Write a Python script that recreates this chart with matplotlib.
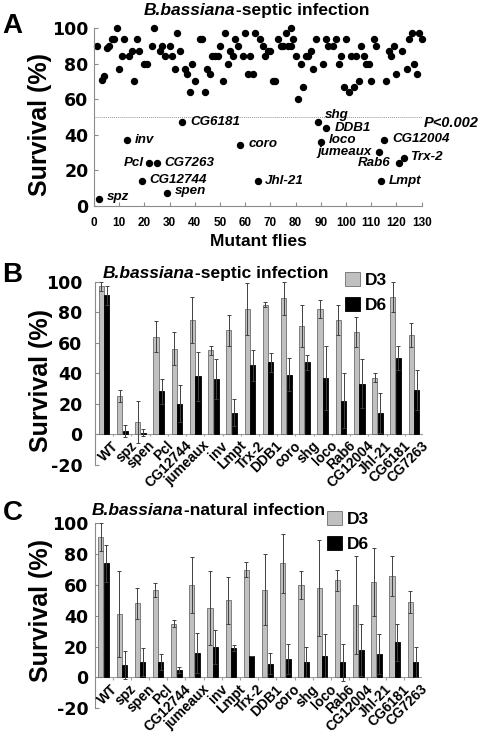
import matplotlib
matplotlib.use("Agg")
import matplotlib.pyplot as plt
import numpy as np

W, H = 478, 735
plt.rcParams['font.family'] = ['Liberation Sans', 'DejaVu Sans']
plt.rcParams['font.weight'] = 'bold'
plt.rcParams['axes.unicode_minus'] = False

# ---------------- Panel A data ----------------
scatter_x = [1, 3, 4, 5, 6, 7, 8, 9, 10, 11, 12, 14, 15, 16, 17, 18, 20, 21, 23, 24,
             26, 27, 28, 30, 31, 32, 33, 34, 36, 37, 38, 39, 40, 42, 43, 44, 45, 46, 47, 48,
             49, 50, 51, 52, 53, 54, 55, 56, 57, 59, 60, 61, 62, 63, 64, 66, 67, 68, 69, 70,
             71, 72, 73, 74, 75, 76, 77, 78, 78, 79, 80, 81, 82, 83, 84, 85, 86, 87, 88, 91,
             92, 93, 95, 96, 97, 98, 99, 100, 101, 102, 103, 104, 105, 106, 107, 108, 109, 110,
             111, 112, 116, 117, 118, 119, 120, 122, 124, 125, 126, 127, 128, 129, 130]
scatter_y = [90, 71, 73, 89, 90, 94, 94, 100, 77, 84, 94, 84, 87, 70, 94, 87, 80, 80, 90, 100,
             87, 90, 84, 90, 84, 77, 97, 87, 77, 74, 64, 80, 70, 94, 94, 64, 77, 74, 84, 84,
             84, 90, 70, 97, 80, 87, 84, 94, 90, 84, 97, 74, 84, 74, 97, 94, 90, 84, 87, 87,
             70, 70, 94, 90, 90, 97, 90, 90, 100, 94, 84, 60, 80, 67, 84, 84, 87, 77, 94, 80,
             94, 90, 90, 94, 80, 84, 67, 94, 64, 84, 67, 84, 70, 90, 84, 80, 80, 70,
             94, 90, 70, 87, 84, 90, 74, 87, 77, 94, 97, 80, 74, 97, 94]

mutant_names = ['spz', 'inv', 'Pcl', 'CG7263', 'CG12744', 'spen', 'CG6181', 'coro', 'Jhl-21',
                'shg', 'DDB1', 'loco', 'jumeaux', 'CG12004', 'Trx-2', 'Rab6', 'Lmpt']
mutant_x = [2, 13, 22, 25, 19, 29, 35, 58, 65, 89, 92, 90, 113, 115, 123, 121, 114]
mutant_y = [4, 37, 24, 24, 14, 7, 47, 34, 14, 47, 44, 36, 30, 37, 27, 24, 14]
threshold = 50

# ---------------- Panel B / C data ----------------
genes = ['WT', 'spz', 'spen', 'Pcl', 'CG12744', 'jumeaux', 'inv', 'Lmpt', 'Trx-2', 'DDB1',
         'coro', 'shg', 'loco', 'Rab6', 'CG12004', 'Jhl-21', 'CG6181', 'CG7263']
septic_d3 = [97, 25, 8, 64, 56, 75, 55, 68, 82, 85, 89, 71, 82, 75, 67, 37, 90, 65]
septic_d3_err = [3, 4, 14, 10, 11, 15, 3, 10, 17, 1.5, 11, 14, 6, 10, 10, 3, 10, 8]
septic_d6 = [91, 2, 1, 28, 20, 38, 36, 14, 45, 47, 39, 47, 37, 22, 33, 14, 50, 29]
septic_d6_err = [6, 4, 2, 8, 12, 16, 13, 9, 10, 6, 11, 5, 21, 18, 16, 13, 8, 13]

natural_d3 = [91, 41, 48, 57, 35, 60, 45, 50, 70, 57, 74, 60, 58, 63, 47, 62, 66, 49]
natural_d3_err = [9, 28, 10, 4.5, 2, 18, 24, 15, 5, 23, 19, 9, 31, 7, 32, 22, 13, 7]
natural_d6 = [74, 8, 10, 10, 5, 16, 20, 19, 14, 9, 12, 10, 14, 10, 18, 15, 23, 10]
natural_d6_err = [12, 9, 9, 5, 2, 13, 11, 2, 0, 7, 10, 10, 14, 12, 17, 13, 12, 10]

fig = plt.figure(figsize=(W / 100, H / 100), dpi=100)

def fx(px):
    return px / W

def fy(py):
    return 1 - py / H

GRAY = '#8c8c8c'

# ================= Panel A =================
axA = fig.add_axes([fx(94), fy(205.7), (421.7 - 94) / W, (205.7 - 28) / H])
axA.plot(scatter_x, scatter_y, 'o', color='black', ms=4.3, clip_on=False)
axA.plot(mutant_x, mutant_y, 'o', color='black', ms=4.3, clip_on=False)
axA.plot([0, 130], [threshold, threshold], linestyle=(0, (1, 1)), color='#999999', lw=0.7)
axA.set_xlim(0, 130)
axA.set_ylim(0, 100)
axA.set_xticks(np.arange(0, 131, 10))
axA.set_yticks(np.arange(0, 101, 20))
for s in ['top', 'right']:
    axA.spines[s].set_visible(False)
for s in ['left', 'bottom']:
    axA.spines[s].set_color(GRAY)
    axA.spines[s].set_linewidth(0.8)
axA.tick_params(axis='both', direction='in', length=3, color=GRAY, width=0.8)
axA.tick_params(axis='x', pad=8, labelsize=8.5)
axA.tick_params(axis='y', pad=4, labelsize=12.5)
for lab in axA.get_yticklabels():
    lab.set_family('DejaVu Sans')
    lab.set_weight('bold')
for lab in axA.get_xticklabels():
    lab.set_weight('bold')

# label offsets: (dx, dy, ha)
label_pos = {
    'spz': (3.2, 1, 'left'), 'inv': (3.3, 0, 'left'), 'Pcl': (-2.2, 0.3, 'right'),
    'CG7263': (2.8, 0.2, 'left'), 'CG12744': (2.8, 0.6, 'left'), 'spen': (3.1, 1.4, 'left'),
    'CG6181': (3.4, 0.2, 'left'), 'coro': (3.2, 0.7, 'left'), 'Jhl-21': (2.6, 0, 'left'),
    'shg': (2.7, 4.2, 'left'), 'DDB1': (3.6, -0.5, 'left'), 'loco': (3.3, 1.0, 'left'),
    'jumeaux': (-2.8, 0.2, 'right'), 'CG12004': (3.4, 0.3, 'left'), 'Trx-2': (2.4, 0.6, 'left'),
    'Rab6': (-3.3, -0.2, 'right'), 'Lmpt': (2.8, 0, 'left'),
}
for name, x, y in zip(mutant_names, mutant_x, mutant_y):
    dx, dy, ha = label_pos[name]
    axA.text(x + dx, y + dy, name, style='italic', weight='bold', fontsize=9.6,
             ha=ha, va='center', clip_on=False)
axA.text(131, 46.5, 'P<0.002', style='italic', weight='bold', fontsize=10.5,
         ha='left', va='center', clip_on=False)

fig.text(fx(40), fy(125), 'Survival (%)', rotation=90, ha='center', va='center',
         fontsize=18, weight='bold')
fig.text(fx(258), fy(241), 'Mutant flies', ha='center', va='center', fontsize=12.5, weight='bold')

renderer = fig.canvas.get_renderer()

def mixed_title(px, py, rest):
    t1 = fig.text(fx(px), fy(py), 'B.bassiana', style='italic', weight='bold',
                  fontsize=12.5, ha='left', va='baseline')
    bb = t1.get_window_extent(renderer=renderer)
    fig.text(bb.x1 / W + 0.001, fy(py), rest,
             weight='bold', fontsize=12.5, ha='left', va='baseline')

mixed_title(144, 15, '-septic infection')
fig.text(fx(2), fy(13), 'A', fontsize=20, weight='bold', ha='left', va='top')

# ================= Panels B and C =================
def bar_panel(rect, d3, d3e, d6, d6e, ypad, legend_xy):
    ax = fig.add_axes(rect)
    x = np.arange(len(genes))
    w = 0.28
    off = 0.15
    b1 = ax.bar(x - off, d3, w, color='#c0c0c0', edgecolor='#6e6e6e', linewidth=0.6,
                label='D3', zorder=2)
    b2 = ax.bar(x + off, d6, w, color='black', edgecolor='black', linewidth=0.6,
                label='D6', zorder=2)
    ax.errorbar(x - off, d3, yerr=d3e, fmt='none', ecolor='#404040', elinewidth=0.7,
                capsize=1.6, capthick=0.7, zorder=3)
    ax.errorbar(x + off, d6, yerr=d6e, fmt='none', ecolor='#404040', elinewidth=0.7,
                capsize=1.6, capthick=0.7, zorder=3)
    ax.set_xlim(-0.5, len(genes) - 0.5)
    ax.set_ylim(-20, 100)
    ax.set_yticks(np.arange(-20, 101, 20))
    ax.set_xticks([])
    for s in ['top', 'right', 'bottom']:
        ax.spines[s].set_visible(False)
    ax.spines['left'].set_color(GRAY)
    ax.spines['left'].set_linewidth(0.8)
    ax.tick_params(axis='y', direction='in', length=3, color=GRAY, width=0.8,
                   pad=ypad, labelsize=12.5)
    for lab in ax.get_yticklabels():
        lab.set_family('DejaVu Sans')
        lab.set_weight('bold')
    ax.axhline(0, color='#a0a0a0', lw=0.8, zorder=1)
    ax.vlines(np.arange(len(genes)) + 0.5, -1.5, 0, color='#a0a0a0', lw=0.8, zorder=1)
    for i, g in enumerate(genes):
        ax.text(i + 0.4, -3.0, g, rotation=45, ha='right', va='top', rotation_mode='anchor',
                fontsize=10, weight='bold', clip_on=False)
    fig.legend(handles=[b1, b2], labels=['D3', 'D6'], loc='upper left',
               bbox_to_anchor=legend_xy, frameon=False,
               handlelength=0.85, handleheight=0.85, handletextpad=0.3,
               labelspacing=0.55, borderpad=0, borderaxespad=0,
               prop={'weight': 'bold', 'size': 12.5})
    return ax

axB = bar_panel([fx(95), fy(464.5), (423 - 95) / W, (464.5 - 281.7) / H],
                septic_d3, septic_d3_err, septic_d6, septic_d6_err,
                9, (fx(345), fy(272)))
fig.text(fx(41), fy(380), 'Survival (%)', rotation=90, ha='center', va='center',
         fontsize=18, weight='bold')
mixed_title(103, 278, '-septic infection')
fig.text(fx(2), fy(262), 'B', fontsize=20, weight='bold', ha='left', va='top')

axC = bar_panel([fx(94.5), fy(708.3), (422 - 94.5) / W, (708.3 - 523.3) / H],
                natural_d3, natural_d3_err, natural_d6, natural_d6_err,
                4.5, (fx(327), fy(511)))
fig.text(fx(41), fy(610), 'Survival (%)', rotation=90, ha='center', va='center',
         fontsize=18, weight='bold')
mixed_title(92, 515, '-natural infection')
fig.text(fx(3), fy(500), 'C', fontsize=20, weight='bold', ha='left', va='top')

fig.savefig('out.png', dpi=100)
